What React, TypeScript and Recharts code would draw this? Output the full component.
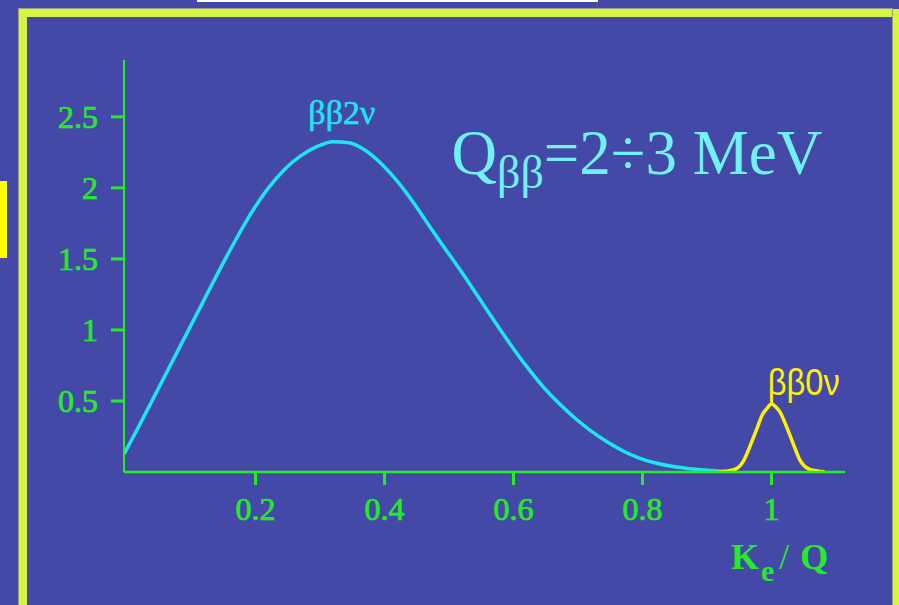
import React from 'react';
import { LineChart, Line, XAxis, YAxis, ReferenceDot } from 'recharts';

// ---- data ----
const xTicks = [0.2, 0.4, 0.6, 0.8, 1];
const yTicks = [0.5, 1, 1.5, 2, 2.5];

// 2-neutrino double beta spectrum (K_e/Q, rate)
const twoNuX = [-0.004, 0.02, 0.045, 0.07, 0.095, 0.12, 0.145, 0.17, 0.195, 0.22, 0.245, 0.27, 0.295, 0.32, 0.345, 0.37, 0.395, 0.42, 0.445, 0.47, 0.495, 0.52, 0.545, 0.57, 0.595, 0.62, 0.645, 0.67, 0.695, 0.72, 0.745, 0.77, 0.795, 0.82, 0.845, 0.87, 0.895, 0.92, 0.943];
const twoNuY = [0.125, 0.33, 0.55, 0.77, 0.99, 1.21, 1.43, 1.64, 1.835, 2.0, 2.13, 2.225, 2.29, 2.325, 2.318, 2.265, 2.17, 2.045, 1.895, 1.728, 1.565, 1.405, 1.235, 1.065, 0.9, 0.745, 0.605, 0.485, 0.38, 0.29, 0.213, 0.148, 0.098, 0.063, 0.04, 0.025, 0.014, 0.006, 0];

// 0-neutrino peak
const zeroNuX = [0.917, 0.9405, 0.956, 0.9664, 0.9767, 0.987, 0.9927, 1.0, 1.0068, 1.0129, 1.0233, 1.0335, 1.0439, 1.0594, 1.0826];
const zeroNuY = [0, 0.014, 0.073, 0.178, 0.296, 0.413, 0.445, 0.479, 0.458, 0.425, 0.319, 0.202, 0.085, 0.019, 0.002];

const twoNuData = twoNuX.map((x, i) => ({ x, y: twoNuY[i] }));
const zeroNuData = zeroNuX.map((x, i) => ({ x, y: zeroNuY[i] }));

const BG = '#4449A8';
const GREEN = '#26EC26';
const CYAN = '#1EE6F0';
const LIGHT_CYAN = '#6EF2F8';
const YELLOW = '#FFF200';
const SERIF = "'Liberation Serif', 'Times New Roman', Times, serif";
const SANS = "'Liberation Sans', Arial, sans-serif";

const xDomain: [number, number] = [-0.004, 1.114];
const yDomain: [number, number] = [0, 2.9];

const fmt = (v: number) => String(v);

const at = (render: (x: number, y: number) => React.ReactElement) => (props: any) => {
  const vb = (props && props.viewBox) || {};
  return render(vb.x ?? 0, vb.y ?? 0);
};

const twoNuLabel = at((x, y) => (
  <text x={x} y={y} textAnchor="middle" fill={CYAN} stroke={CYAN} strokeWidth={0.5} fontFamily={SERIF} fontSize={34}>
    ββ2ν
  </text>
));

const zeroNuLabel = at((x, y) => (
  <text x={x} y={y} textAnchor="start" fill={YELLOW} fontFamily={SANS} fontSize={36} textLength={72} lengthAdjust="spacingAndGlyphs">
    ββ0ν
  </text>
));

const titleLabel = at((x, y) => (
  <text x={x} y={y} textAnchor="start" fill={LIGHT_CYAN} fontFamily={SERIF} fontSize={63}>
    Q
    <tspan fontSize={46} dy={14}>ββ</tspan>
    <tspan dy={-14}>=2÷3 MeV</tspan>
  </text>
));

const axisTitle = (props: any) => {
  const vb = (props && props.viewBox) || { x: 124, y: 472, width: 721, height: 133 };
  const x = vb.x + vb.width - 114;
  const y = vb.y + 97;
  return (
    <text x={x} y={y} fill={GREEN} fontFamily={SERIF} fontSize={36} fontWeight="bold">
      <tspan>K</tspan>
      <tspan fontSize={30} dy={12} dx={2}>e</tspan>
      <tspan dy={-12} dx={5} fontWeight="normal">/</tspan>
      <tspan dx={11}>Q</tspan>
    </text>
  );
};

const tickStyle = { fill: GREEN, stroke: GREEN, strokeWidth: 0.7, fontFamily: SERIF, fontSize: 32 };

export default function App() {
  return (
    <div style={{ position: 'absolute', left: 0, top: 0, width: 899, height: 605, background: BG, overflow: 'hidden' }}>
      <svg width={899} height={605} style={{ position: 'absolute', left: 0, top: 0 }}>
        <rect x={197} y={0} width={401} height={2} fill="#FFFFFF" />
        <rect x={0} y={181} width={7} height={77} fill="#FFFF00" />
        <rect x={23} y={13} width={874} height={700} fill="none" stroke="#D5F540" strokeWidth={8} />
        <rect x={18.5} y={8.5} width={874} height={700} fill="none" stroke="#9C9C84" strokeWidth={1} />
      </svg>
      <div style={{ position: 'absolute', left: 0, top: 0 }}>
        <LineChart width={899} height={605} margin={{ top: 60, right: 54, bottom: 0, left: 0 }}>
          <XAxis
            dataKey="x"
            type="number"
            domain={xDomain}
            allowDataOverflow
            ticks={xTicks}
            tickFormatter={fmt}
            height={133}
            axisLine={{ stroke: GREEN, strokeWidth: 2.5 }}
            tickLine={{ stroke: GREEN, strokeWidth: 3 }}
            tickSize={13}
            tickMargin={12}
            tick={tickStyle}
            label={axisTitle}
          />
          <XAxis
            xAxisId="top"
            orientation="top"
            type="number"
            domain={xDomain}
            height={0}
            tick={false}
            tickLine={false}
            axisLine={{ stroke: GREEN, strokeWidth: 1 }}
          />
          <YAxis
            type="number"
            domain={yDomain}
            allowDataOverflow
            ticks={yTicks}
            tickFormatter={fmt}
            width={124}
            axisLine={{ stroke: GREEN, strokeWidth: 2 }}
            tickLine={{ stroke: GREEN, strokeWidth: 3 }}
            tickSize={13}
            tickMargin={13}
            tick={tickStyle}
          />
          <YAxis
            yAxisId="right"
            orientation="right"
            type="number"
            domain={yDomain}
            width={0}
            tick={false}
            tickLine={false}
            axisLine={{ stroke: GREEN, strokeWidth: 2 }}
          />
          <Line
            data={twoNuData}
            dataKey="y"
            type="monotone"
            stroke={CYAN}
            strokeWidth={3.5}
            dot={false}
            isAnimationActive={false}
          />
          <Line
            data={zeroNuData}
            dataKey="y"
            type="monotone"
            stroke={YELLOW}
            strokeWidth={3.5}
            dot={false}
            isAnimationActive={false}
          />
          <ReferenceDot x={0.3338} y={2.451} r={0} fill="none" stroke="none" label={twoNuLabel} />
          <ReferenceDot x={0.9942} y={0.542} r={0} fill="none" stroke="none" label={zeroNuLabel} />
          <ReferenceDot x={0.5039} y={2.099} r={0} fill="none" stroke="none" label={titleLabel} />
        </LineChart>
      </div>
    </div>
  );
}
